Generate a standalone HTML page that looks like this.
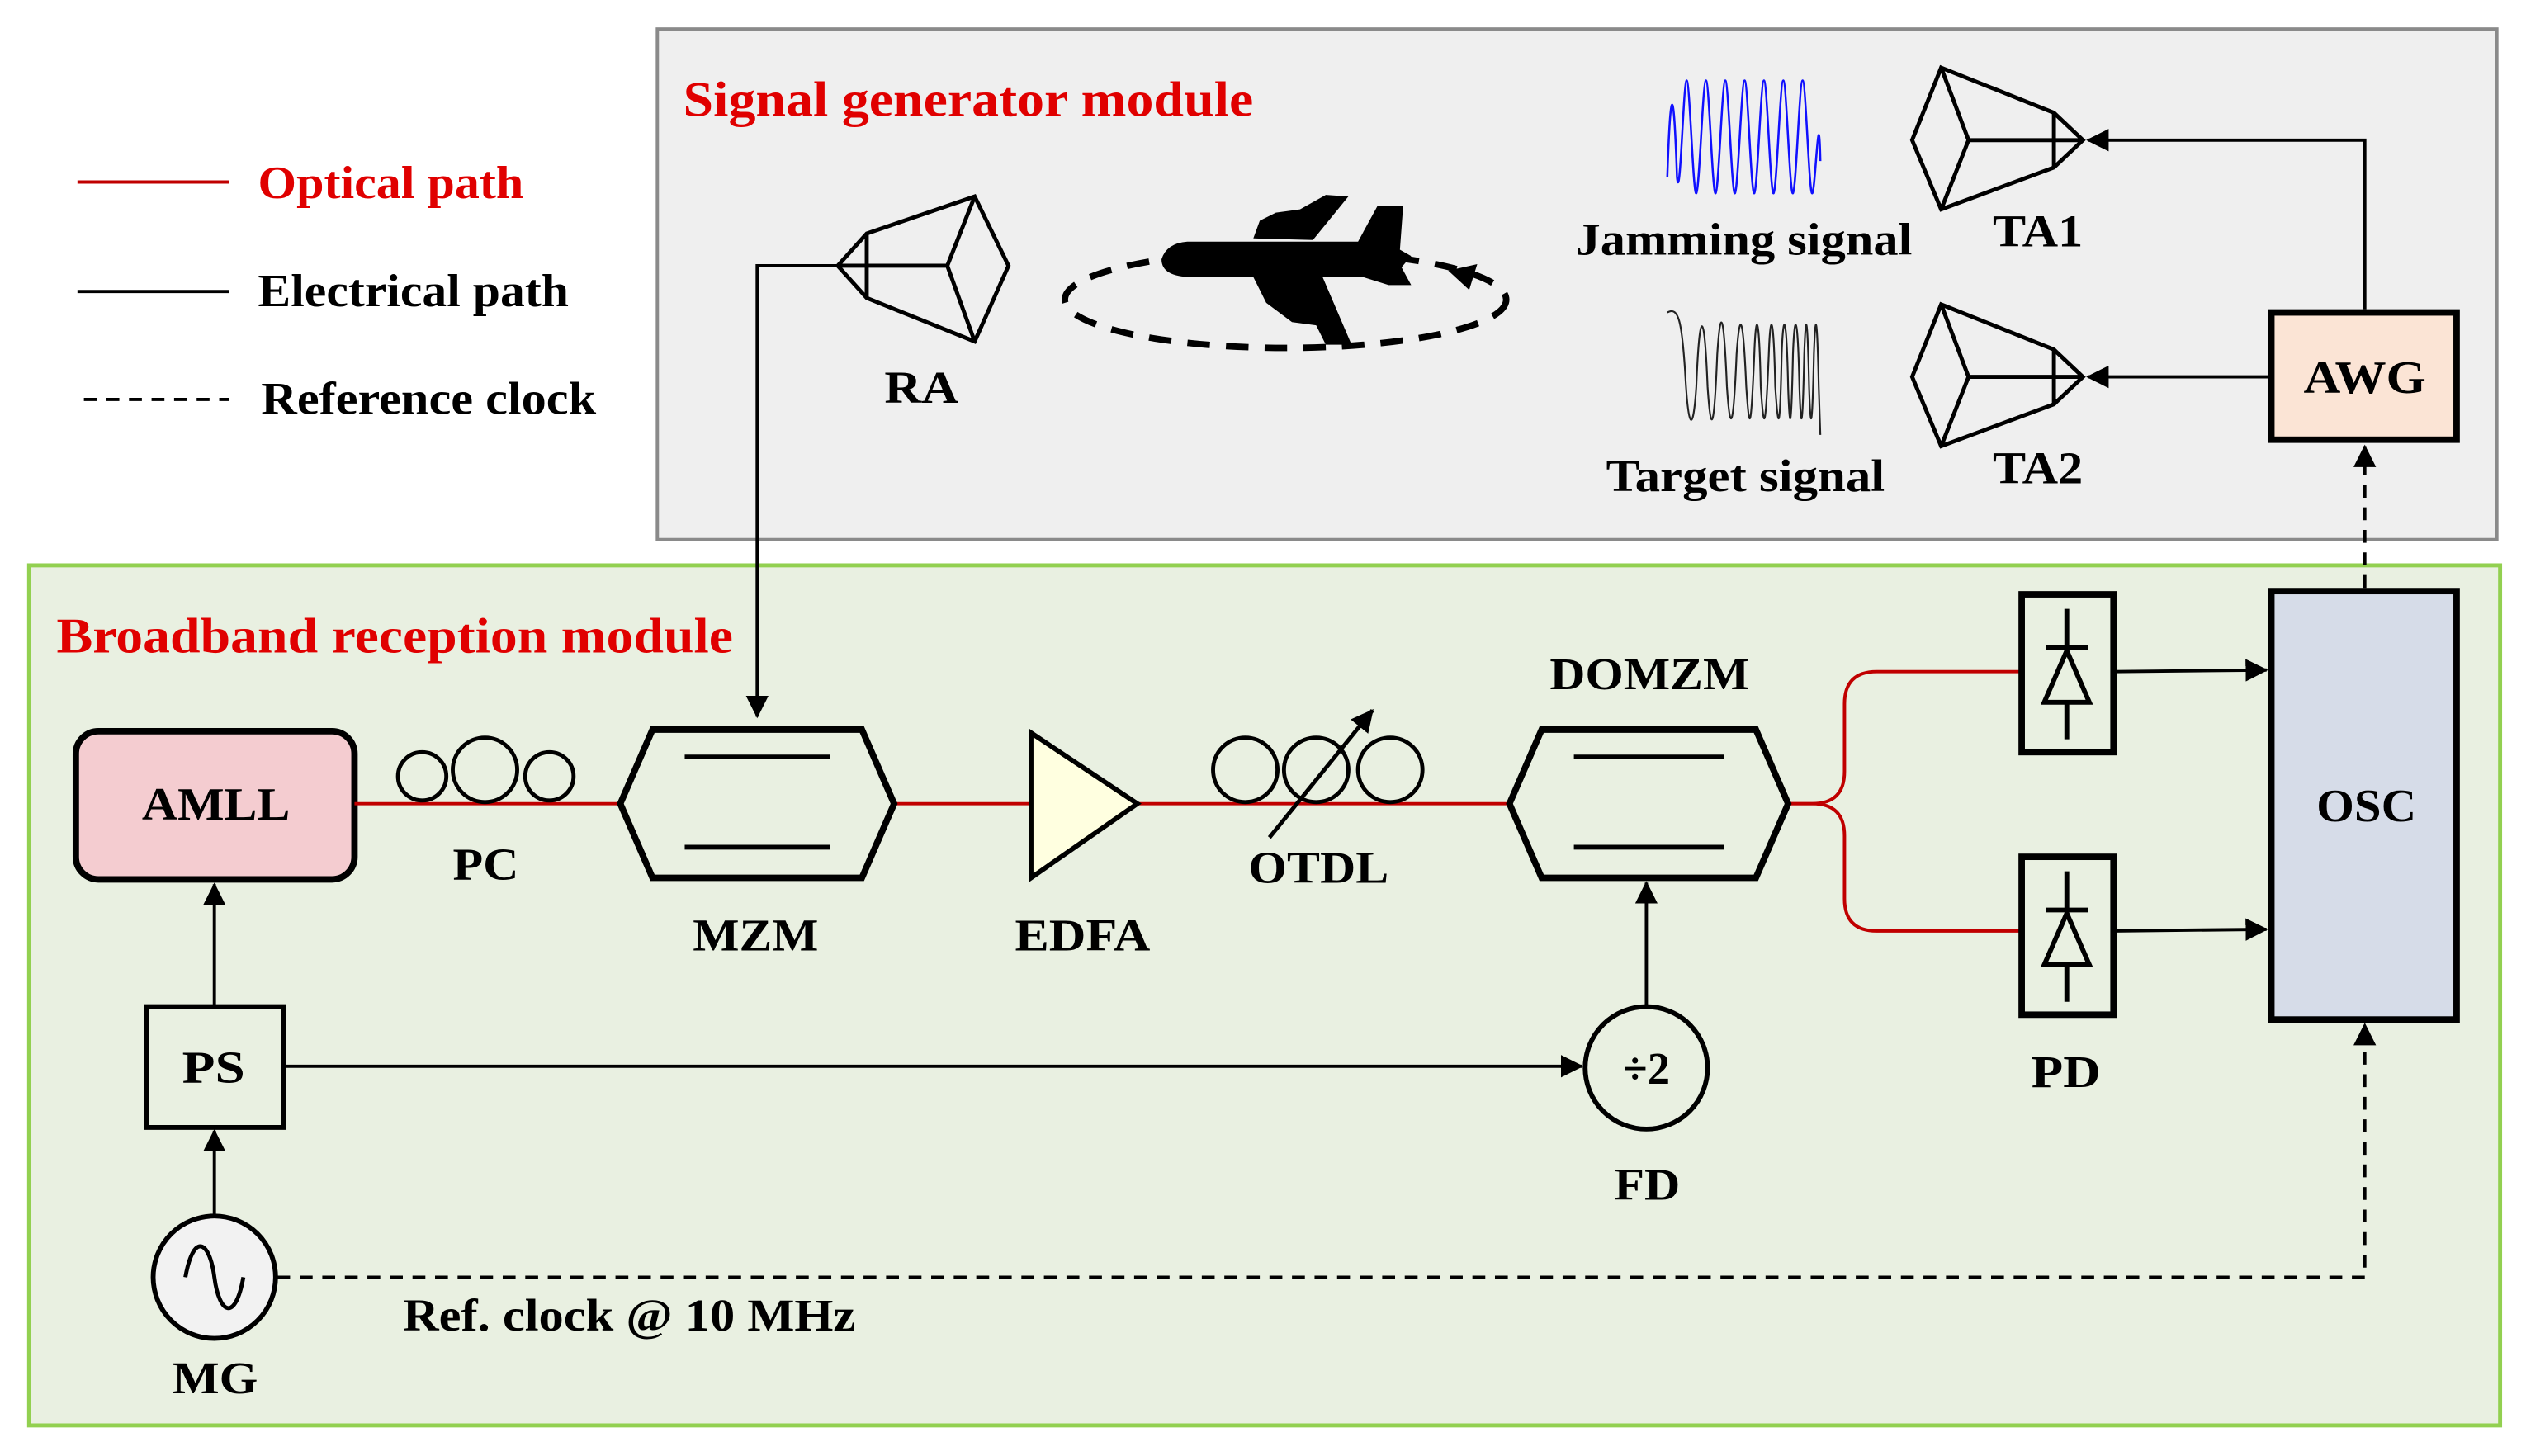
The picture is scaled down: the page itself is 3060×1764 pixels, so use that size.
<!DOCTYPE html>
<html><head><meta charset="utf-8"><style>
html,body{margin:0;padding:0;background:#fff;}
svg{display:block;}
text{font-family:"Liberation Serif",serif;font-weight:bold;}
</style></head><body>
<svg width="3060" height="1764" viewBox="0 0 1568 904" xmlns="http://www.w3.org/2000/svg">
<defs>
<marker id="ah2" markerWidth="14" markerHeight="14" refX="13" refY="7" orient="auto" markerUnits="userSpaceOnUse" viewBox="0 0 14 14"><path d="M0,0 L14,7 L0,14 z" fill="#000"/></marker>
</defs>
<rect width="1568" height="904" fill="#fff"/>
<rect x="408" y="18" width="1142" height="317" fill="#efefef" stroke="#8a8a8a" stroke-width="2"/>
<rect x="18" y="351" width="1534" height="534" fill="#e9f0e1" stroke="#92d050" stroke-width="2.5"/>

<!-- legend -->
<line x1="48" y1="113" x2="142" y2="113" stroke="#c00000" stroke-width="2"/>
<text x="160" y="123" font-size="29" fill="#e00000" textLength="165" lengthAdjust="spacingAndGlyphs">Optical path</text>
<line x1="48" y1="181" x2="142" y2="181" stroke="#000" stroke-width="2"/>
<text x="160" y="190" font-size="29" textLength="193" lengthAdjust="spacingAndGlyphs">Electrical path</text>
<line x1="52" y1="248" x2="142" y2="248" stroke="#000" stroke-width="2" stroke-dasharray="8,6"/>
<text x="162" y="257" font-size="29" textLength="208" lengthAdjust="spacingAndGlyphs">Reference clock</text>

<text x="424" y="72" font-size="31" fill="#e00000" textLength="354" lengthAdjust="spacingAndGlyphs">Signal generator module</text>
<text x="35" y="405" font-size="31" fill="#e00000" textLength="420" lengthAdjust="spacingAndGlyphs">Broadband reception module</text>

<!-- RA -->
<g fill="none" stroke="#000" stroke-width="2.5">
<path d="M538,145 L605,122 L626,165 L605,212 L538,185 L520,165 Z"/>
<path d="M605,122 L588,165 L605,212 M520,165 L588,165 M538,145 L538,185"/>
</g>
<polyline points="520,165 470,165 470,445" fill="none" stroke="#000" stroke-width="2" marker-end="url(#ah2)"/>
<text x="549" y="250" font-size="28" textLength="46" lengthAdjust="spacingAndGlyphs">RA</text>

<!-- plane orbit -->
<ellipse cx="798" cy="186" rx="137" ry="30" fill="none" stroke="#000" stroke-width="4" stroke-dasharray="14,10"/>
<path d="M899,168 L917,164 L912,180 Z" fill="#000"/>
<g fill="#000">
<path d="M721,161 Q724,151 737,150 L843,150 L855,128 L871,128 L869,155 L876,159 L870,166 L876,177 L862,177 L846,172 L740,172 Q721,172 721,161 Z"/>
<path d="M778,148 L782,137 L792,132 L807,130 L823,121 L837,122 L815,149 Z"/>
<path d="M778,172 L786,188 L802,200 L817,202 L823,214 L839,214 L821,172 Z"/>
</g>

<!-- jamming signal -->
<path d="M1035,110 C1037,50 1039,50 1041,110 C1043,130 1045,50 1047,50 C1049,50 1051,122 1053,120 C1055,118 1057,50 1059,50 C1061,50 1063,122 1065,120 C1067,118 1069,50 1071,50 C1073,50 1075,122 1077,120 C1079,118 1081,50 1083,50 C1085,50 1087,122 1089,120 C1091,118 1093,50 1095,50 C1097,50 1099,122 1101,120 C1103,118 1105,50 1107,50 C1109,50 1111,122 1113,120 C1115,118 1117,50 1119,50 C1121,50 1123,122 1125,120 C1127,118 1129,55 1130,100" fill="none" stroke="#1010ff" stroke-width="1.3"/>
<text x="978" y="158" font-size="28" textLength="209" lengthAdjust="spacingAndGlyphs">Jamming signal</text>
<!-- target chirp -->
<path d="M1035,194 C1042,190 1044,200 1046,230 C1048,268 1051,270 1053,240 C1055,190 1058,190 1060,240 C1062,270 1064,270 1066,220 C1068,190 1070,192 1072,240 C1074,270 1076,268 1078,220 C1080,192 1082,194 1084,240 C1086,270 1087,268 1089,220 C1090,192 1092,194 1093,240 C1095,270 1096,268 1098,220 C1099,192 1101,194 1102,240 C1104,270 1105,268 1106,220 C1107,192 1109,194 1110,240 C1111,270 1112,268 1113,220 C1114,192 1116,194 1117,240 C1118,270 1119,268 1120,220 C1121,192 1122,194 1123,240 C1124,270 1125,268 1126,220 C1127,192 1128,194 1129,240 L1130,270" fill="none" stroke="#222" stroke-width="1.1"/>
<text x="997" y="305" font-size="28" textLength="173" lengthAdjust="spacingAndGlyphs">Target signal</text>

<!-- TA1, TA2 -->
<g fill="none" stroke="#000" stroke-width="2.5">
<path d="M1205,42 L1275,70 L1293,87 L1275,104 L1205,130 L1187,87 Z M1205,42 L1222,87 L1205,130 M1222,87 L1293,87 M1275,70 L1275,104"/>
<path d="M1205,189 L1275,217 L1293,234 L1275,251 L1205,277 L1187,234 Z M1205,189 L1222,234 L1205,277 M1222,234 L1293,234 M1275,217 L1275,251"/>
</g>
<text x="1237" y="153" font-size="28" textLength="56" lengthAdjust="spacingAndGlyphs">TA1</text>
<text x="1237" y="300" font-size="28" textLength="56" lengthAdjust="spacingAndGlyphs">TA2</text>

<!-- AWG -->
<rect x="1410" y="194" width="115" height="79" fill="#fbe4d5" stroke="#000" stroke-width="4"/>
<text x="1430" y="244" font-size="29" textLength="76" lengthAdjust="spacingAndGlyphs">AWG</text>
<polyline points="1468,192 1468,87 1296,87" fill="none" stroke="#000" stroke-width="2" marker-end="url(#ah2)"/>
<line x1="1408" y1="234" x2="1296" y2="234" stroke="#000" stroke-width="2" marker-end="url(#ah2)"/>
<line x1="1468" y1="365" x2="1468" y2="277" stroke="#000" stroke-width="2" stroke-dasharray="8,6" marker-end="url(#ah2)"/>

<!-- OSC -->
<rect x="1410" y="367" width="115" height="266" fill="#d6dce8" stroke="#000" stroke-width="4"/>
<text x="1438" y="510" font-size="29" textLength="62" lengthAdjust="spacingAndGlyphs">OSC</text>

<!-- AMLL -->
<rect x="47" y="454" width="173" height="92" rx="14" fill="#f4ccd0" stroke="#000" stroke-width="4"/>
<text x="88" y="509" font-size="29" textLength="92" lengthAdjust="spacingAndGlyphs">AMLL</text>

<!-- optical red line -->
<g fill="none" stroke="#c00000" stroke-width="2">
<line x1="220" y1="499" x2="385" y2="499"/>
<line x1="555" y1="499" x2="640" y2="499"/>
<line x1="706" y1="499" x2="937" y2="499"/>
<path d="M1110,499 L1125,499 Q1145,499 1145,479 L1145,437 Q1145,417 1165,417 L1255,417"/>
<path d="M1110,499 L1125,499 Q1145,499 1145,519 L1145,558 Q1145,578 1165,578 L1255,578"/>
</g>

<!-- PC -->
<g fill="none" stroke="#000" stroke-width="2.5">
<circle cx="262" cy="482" r="15"/><circle cx="301" cy="478" r="20"/><circle cx="341" cy="482" r="15"/>
</g>
<text x="281" y="546" font-size="28" textLength="41" lengthAdjust="spacingAndGlyphs">PC</text>

<!-- MZM -->
<path d="M385,499 L405,453 L535,453 L555,499 L535,545 L405,545 Z" fill="none" stroke="#000" stroke-width="4"/>
<path d="M425,470 L515,470 M425,526 L515,526" stroke="#000" stroke-width="3"/>
<text x="430" y="590" font-size="28" textLength="78" lengthAdjust="spacingAndGlyphs">MZM</text>

<!-- EDFA -->
<path d="M640,455 L706,499 L640,545 Z" fill="#ffffe0" stroke="#000" stroke-width="3"/>
<text x="630" y="590" font-size="28" textLength="84" lengthAdjust="spacingAndGlyphs">EDFA</text>

<!-- OTDL -->
<g fill="none" stroke="#000" stroke-width="2.5">
<circle cx="773" cy="478" r="20"/><circle cx="817" cy="478" r="20"/><circle cx="863" cy="478" r="20"/>
</g>
<line x1="788" y1="520" x2="852" y2="441" stroke="#000" stroke-width="2.5" marker-end="url(#ah2)"/>
<text x="775" y="548" font-size="28" textLength="87" lengthAdjust="spacingAndGlyphs">OTDL</text>

<!-- DOMZM -->
<path d="M937,499 L957,453 L1090,453 L1110,499 L1090,545 L957,545 Z" fill="none" stroke="#000" stroke-width="4"/>
<path d="M977,470 L1070,470 M977,526 L1070,526" stroke="#000" stroke-width="3"/>
<text x="962" y="428" font-size="28" textLength="124" lengthAdjust="spacingAndGlyphs">DOMZM</text>

<!-- PDs -->
<g fill="none" stroke="#000" stroke-width="4">
<rect x="1255" y="369" width="57" height="98"/>
<rect x="1255" y="532" width="57" height="98"/>
</g>
<g fill="none" stroke="#000" stroke-width="3">
<path d="M1283,378 L1283,402 M1270,402 L1296,402 M1283,404 L1269,436 L1297,436 Z M1283,436 L1283,459"/>
<path d="M1283,541 L1283,565 M1270,565 L1296,565 M1283,567 L1269,599 L1297,599 Z M1283,599 L1283,622"/>
</g>
<text x="1261" y="675" font-size="28" textLength="43" lengthAdjust="spacingAndGlyphs">PD</text>
<line x1="1312" y1="417" x2="1407" y2="416" stroke="#000" stroke-width="2" marker-end="url(#ah2)"/>
<line x1="1312" y1="578" x2="1407" y2="577" stroke="#000" stroke-width="2" marker-end="url(#ah2)"/>

<!-- FD -->
<circle cx="1022" cy="663" r="38" fill="none" stroke="#000" stroke-width="3"/>
<text x="1022" y="673" font-size="28" text-anchor="middle">÷2</text>
<text x="1002" y="745" font-size="28" textLength="41" lengthAdjust="spacingAndGlyphs">FD</text>
<line x1="1022" y1="624" x2="1022" y2="548" stroke="#000" stroke-width="2" marker-end="url(#ah2)"/>

<!-- PS -->
<rect x="91" y="625" width="85" height="75" fill="none" stroke="#000" stroke-width="3"/>
<text x="113" y="672" font-size="28" textLength="39" lengthAdjust="spacingAndGlyphs">PS</text>
<line x1="133" y1="624" x2="133" y2="549" stroke="#000" stroke-width="2" marker-end="url(#ah2)"/>
<line x1="176" y1="662" x2="982" y2="662" stroke="#000" stroke-width="2" marker-end="url(#ah2)"/>

<!-- MG -->
<circle cx="133" cy="793" r="38" fill="#f2f2f2" stroke="#000" stroke-width="3"/>
<path d="M115,793 C120,765 130,770 133,793 C136,816 146,821 151,793" fill="none" stroke="#000" stroke-width="2.5"/>
<text x="107" y="865" font-size="28" textLength="53" lengthAdjust="spacingAndGlyphs">MG</text>
<line x1="133" y1="754" x2="133" y2="702" stroke="#000" stroke-width="2" marker-end="url(#ah2)"/>
<polyline points="172,793 1468,793 1468,636" fill="none" stroke="#000" stroke-width="2" stroke-dasharray="8,6" marker-end="url(#ah2)"/>
<text x="250" y="826" font-size="28" textLength="281" lengthAdjust="spacingAndGlyphs">Ref. clock @ 10 MHz</text>
</svg>
</body></html>
